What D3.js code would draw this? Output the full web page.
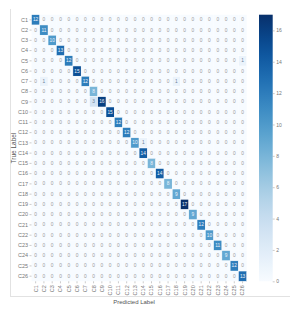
<!DOCTYPE html>
<html><head><meta charset="utf-8">
<script src="https://cdn.jsdelivr.net/npm/d3@7"></script>
<style>
html,body{margin:0;padding:0;background:#fff;}
svg{display:block;font-family:"Liberation Sans",Arial,sans-serif;}
</style></head>
<body>
<svg id="c" width="292" height="311"></svg>
<script>
const labels = ["C1","C2","C3","C4","C5","C6","C7","C8","C9","C10","C11","C12","C13","C14","C15","C16","C17","C18","C19","C20","C21","C22","C23","C24","C25","C26"];
const diagonal = [12,11,10,13,12,15,12,8,16,15,12,12,10,14,8,14,8,9,17,9,12,10,11,9,12,13];
// [trueIndex, predictedIndex, count]
const offDiagonal = [[4,25,1],[6,1,1],[6,17,1],[8,7,3],[12,13,1]];
const colorTicks = [0,2,4,6,8,10,12,14,16];
const maxValue = 17;

(function(){
const matrix = labels.map((_, i) => labels.map((_, j) => i === j ? diagonal[i] : 0));
offDiagonal.forEach(([i,j,v]) => { matrix[i][j] = v; });
const cells = [];
matrix.forEach((row,i) => row.forEach((v,j) => cells.push({i,j,v})));

const svg = d3.select("#c");
const pL = 31.5, pR = 246.7, pT = 14.7, pB = 281.3;

svg.append("line").attr("x1",10.5).attr("x2",10.5).attr("y1",9).attr("y2",297).attr("stroke","#e2e2e2");
svg.append("line").attr("x1",10).attr("x2",290).attr("y1",296.5).attr("y2",296.5).attr("stroke","#e2e2e2");

const x = d3.scaleBand().domain(labels).range([pL,pR]);
const y = d3.scaleBand().domain(labels).range([pT,pB]);
const color = d3.scaleSequential(d3.interpolateBlues).domain([0,maxValue]);

const g = svg.append("g");
g.selectAll("rect").data(cells).join("rect")
  .attr("x", d => x(labels[d.j])).attr("y", d => y(labels[d.i]))
  .attr("width", x.bandwidth()).attr("height", y.bandwidth())
  .attr("fill", d => color(d.v))
  .attr("stroke", d => d.v > 0 ? "#fff" : "none").attr("stroke-width", 0.5);
g.selectAll("text").data(cells).join("text")
  .attr("x", d => x(labels[d.j]) + x.bandwidth()/2)
  .attr("y", d => y(labels[d.i]) + y.bandwidth()/2)
  .attr("text-anchor","middle").attr("dominant-baseline","central")
  .attr("font-size", 4.8)
  .attr("fill", d => d.v > 4 ? "#eaf2fb" : (d.v > 0 ? "#6b7f99" : "#9a9a9a"))
  .text(d => d.v);

const yAxis = svg.append("g").attr("transform",`translate(${pL},0)`)
  .call(d3.axisLeft(y).tickSize(2).tickPadding(1.5));
const xAxis = svg.append("g").attr("transform",`translate(0,${pB})`)
  .call(d3.axisBottom(x).tickSize(2).tickPadding(1.5));
[yAxis,xAxis].forEach(a => {
  a.select(".domain").remove();
  a.selectAll(".tick line").attr("stroke","#999").attr("stroke-width",0.5);
  a.selectAll(".tick text").attr("fill","#777").attr("font-size",5.5).attr("font-family","Liberation Sans, Arial, sans-serif");
});
xAxis.selectAll(".tick text")
  .attr("transform","rotate(-90)")
  .attr("text-anchor","end").attr("dy","0.35em")
  .attr("x",-4).attr("y",0);

svg.append("text").attr("x",134).attr("y",304).attr("text-anchor","middle")
  .attr("font-size",6).attr("fill","#555").text("Predicted Label");
svg.append("text").attr("transform",`translate(16,${(pT+pB)/2}) rotate(-90)`)
  .attr("text-anchor","middle").attr("font-size",6.5).attr("fill","#555").text("True Label");

const cbX = 259, cbW = 13.7;
const defs = svg.append("defs");
const grad = defs.append("linearGradient").attr("id","cb").attr("x1",0).attr("y1",1).attr("x2",0).attr("y2",0);
d3.range(0,1.0001,0.05).forEach(t => grad.append("stop").attr("offset",t).attr("stop-color",color(t*maxValue)));
svg.append("rect").attr("x",cbX).attr("y",pT).attr("width",cbW).attr("height",pB-pT).attr("fill","url(#cb)");
const cScale = d3.scaleLinear().domain([0,maxValue]).range([pB,pT]);
const cAxis = svg.append("g").attr("transform",`translate(${cbX+cbW},0)`)
  .call(d3.axisRight(cScale).tickValues(colorTicks).tickSize(2).tickPadding(1.5));
cAxis.select(".domain").remove();
cAxis.selectAll(".tick line").attr("stroke","#999").attr("stroke-width",0.5);
cAxis.selectAll(".tick text").attr("fill","#777").attr("font-size",5).attr("font-family","Liberation Sans, Arial, sans-serif");
})();
</script>
</body></html>
